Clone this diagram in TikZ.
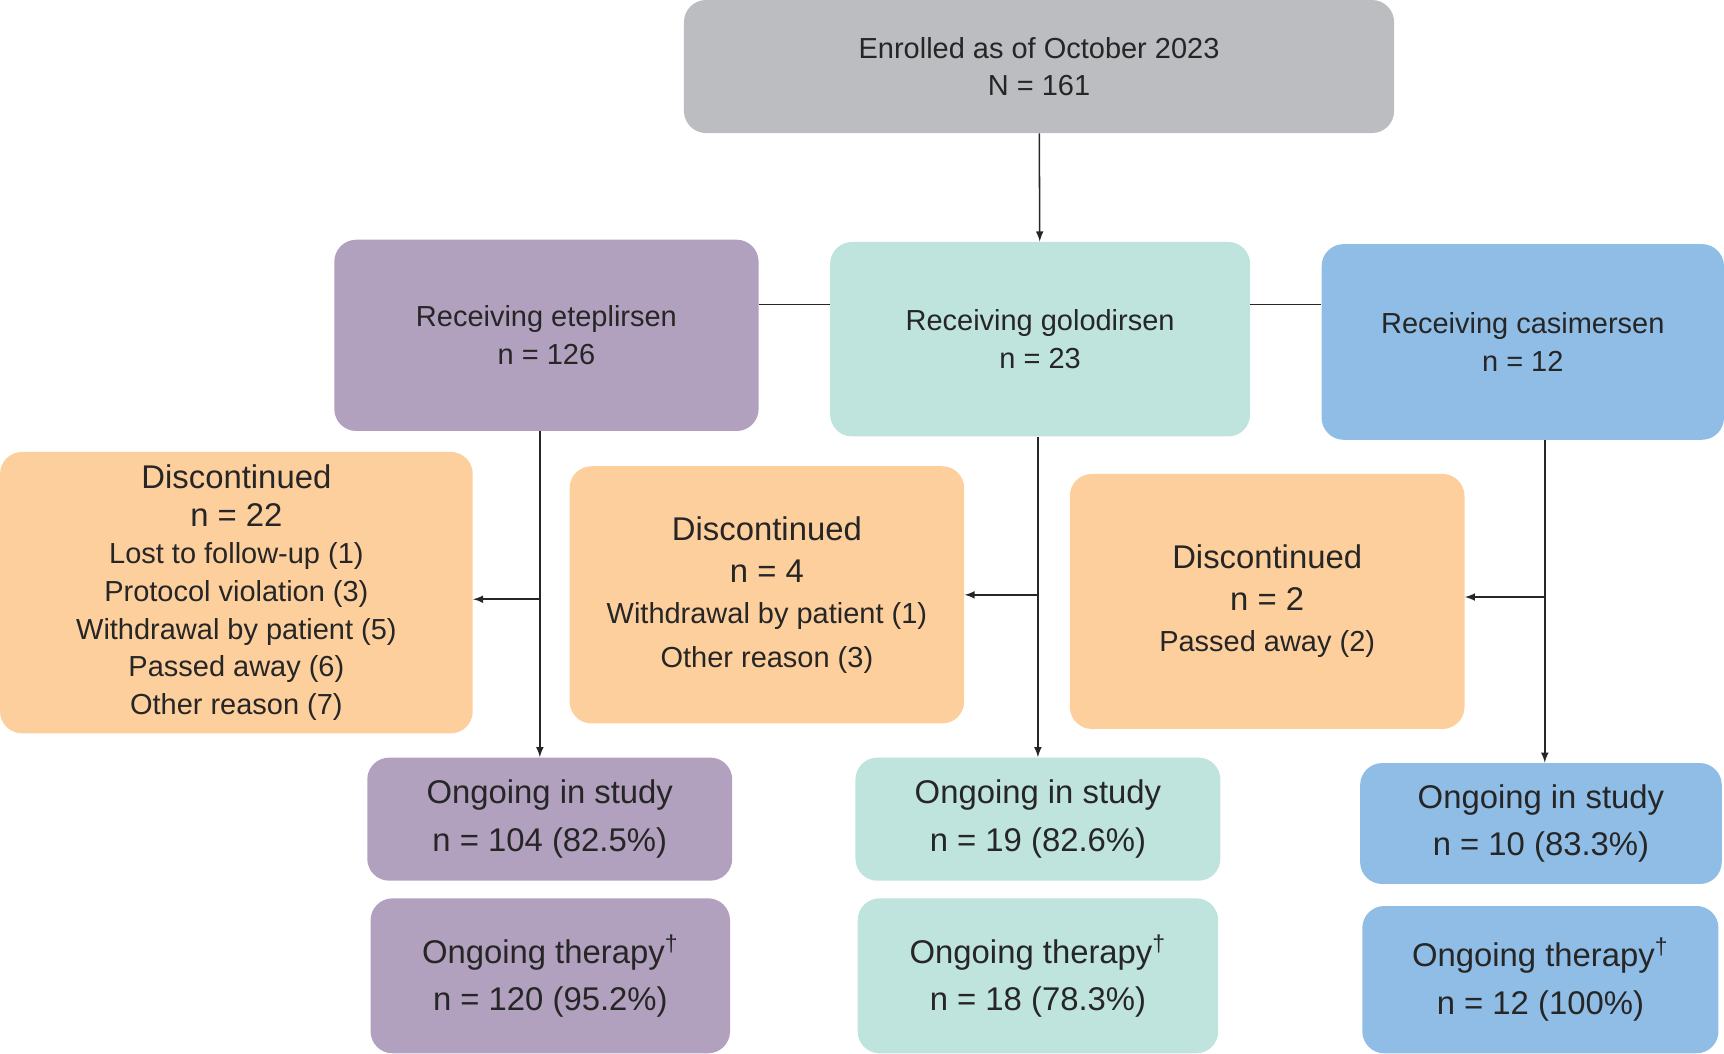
\documentclass[tikz,border=0pt]{standalone}
\usepackage{fontspec}
\setmainfont{Liberation Sans}
\usetikzlibrary{arrows,positioning}
\definecolor{grayfill}{HTML}{BCBDC0}
\definecolor{etepfill}{HTML}{B1A0BE}
\definecolor{golofill}{HTML}{BFE3DD}
\definecolor{casifill}{HTML}{8FBDE6}
\definecolor{discfill}{HTML}{FDCF9D}
\begin{document}
\begin{tikzpicture}[x=0.02cm,y=-0.02cm,>=latex]
\tikzstyle{box}=[rectangle,rounded corners=0.4cm,inner sep=2pt,align=center,
font=\fontsize{15}{19.5}\selectfont,text=black!85]
\tikzstyle{link}=[draw=black!85,line width=0.8pt]
\useasboundingbox (0,0) rectangle (1568,958);
\node[box,fill=grayfill,minimum width=12.92cm,minimum height=2.42cm] at (945,60.5) (enroll) {Enrolled as of October 2023\\N = 161};
\node[box,fill=etepfill,minimum width=7.72cm,minimum height=3.48cm] at (497,305) (etep) {Receiving eteplirsen\\n = 126};
\node[box,fill=golofill,minimum width=7.64cm,minimum height=3.54cm] at (946,308.5) (golo) {Receiving golodirsen\\n = 23};
\node[box,fill=casifill,minimum width=7.32cm,minimum height=3.56cm] at (1385,311) (casi) {Receiving casimersen\\n = 12};
\node[box,fill=discfill,minimum width=8.6cm,minimum height=5.12cm] at (215,539) (disc1) {{\fontsize{17}{20}\selectfont Discontinued}\\{\fontsize{17}{20}\selectfont n = 22}\\Lost to follow-up (1)\\Protocol violation (3)\\Withdrawal by patient (5)\\Passed away (6)\\Other reason (7)};
\node[box,fill=discfill,minimum width=7.18cm,minimum height=4.68cm] at (697.5,541) (disc2) {{\fontsize{17}{20}\selectfont Discontinued}\\[2pt]{\fontsize{17}{20}\selectfont n = 4}\\[2pt]Withdrawal by patient (1)\\[3pt]Other reason (3)};
\node[box,fill=discfill,minimum width=7.18cm,minimum height=4.64cm] at (1152.5,547) (disc3) {{\fontsize{17}{20}\selectfont Discontinued}\\[2pt]{\fontsize{17}{20}\selectfont n = 2}\\[2pt]Passed away (2)};
\node[box,fill=etepfill,minimum width=6.64cm,minimum height=2.24cm] at (500,745) (ong1) {{\fontsize{17}{20}\selectfont Ongoing in study}\\[5pt]{\fontsize{17}{20}\selectfont n = 104 (82.5\%)}};
\node[box,fill=etepfill,minimum width=6.54cm,minimum height=2.82cm] at (500.5,887.5) (ther1) {{\fontsize{17}{20}\selectfont Ongoing therapy\textsuperscript{\dag}}\\[5pt]{\fontsize{17}{20}\selectfont n = 120 (95.2\%)}};
\node[box,fill=golofill,minimum width=6.64cm,minimum height=2.24cm] at (944,745) (ong2) {{\fontsize{17}{20}\selectfont Ongoing in study}\\[5pt]{\fontsize{17}{20}\selectfont n = 19 (82.6\%)}};
\node[box,fill=golofill,minimum width=6.56cm,minimum height=2.82cm] at (944,887.5) (ther2) {{\fontsize{17}{20}\selectfont Ongoing therapy\textsuperscript{\dag}}\\[5pt]{\fontsize{17}{20}\selectfont n = 18 (78.3\%)}};
\node[box,fill=casifill,minimum width=6.58cm,minimum height=2.2cm] at (1401.5,749) (ong3) {{\fontsize{17}{20}\selectfont Ongoing in study}\\[5pt]{\fontsize{17}{20}\selectfont n = 10 (83.3\%)}};
\node[box,fill=casifill,minimum width=6.48cm,minimum height=2.68cm] at (1401,891) (ther3) {{\fontsize{17}{20}\selectfont Ongoing therapy\textsuperscript{\dag}}\\[5pt]{\fontsize{17}{20}\selectfont n = 12 (100\%)}};

\draw[link,->] (enroll) -- (golo);
\draw[link] (etep.east |- 0,277) -- (golo.west |- 0,277);
\draw[link] (golo.east |- 0,277) -- (casi.west |- 0,277);
\draw[link,->] (etep.south -| 491,0) -- (ong1.north -| 491,0);
\draw[link,->] (491,545) -- (disc1.east |- 0,545);
\draw[link,->] (golo.south -| 944,0) -- (ong2.north -| 944,0);
\draw[link,->] (944,541) -- (disc2.east |- 0,541);
\draw[link,->] (casi.south -| 1405,0) -- (ong3.north -| 1405,0);
\draw[link,->] (1405,543) -- (disc3.east |- 0,543);
\end{tikzpicture}
\end{document}
